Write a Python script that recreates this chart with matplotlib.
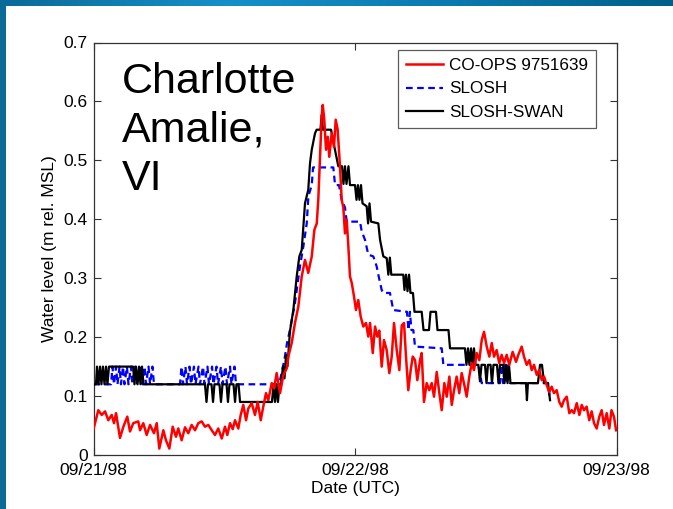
import numpy as np
import matplotlib
matplotlib.use('Agg')
import matplotlib.pyplot as plt

plt.rcParams['font.family'] = ['Liberation Sans', 'DejaVu Sans']

# hours after 09/21/98 00:00 UTC, water level in m rel. MSL
coops_hours = [0.0, 0.44, 0.75, 1.06, 1.36, 1.67, 1.88, 2.07, 2.43, 2.74, 3.1, 3.35, 3.65, 4.11, 4.27, 4.57,
               4.88, 5.19, 5.55, 5.8, 6.04, 6.41, 6.65, 6.96, 7.27, 7.57, 7.78, 8.09, 8.4, 8.7, 9.01, 9.32,
               9.62, 9.93, 10.23, 10.54, 10.85, 11.15, 11.45, 11.77, 12.07, 12.28, 12.53, 12.78, 12.99, 13.29,
               13.51, 13.75, 14.0, 14.21, 14.52, 14.82, 15.07, 15.35, 15.58, 15.83, 16.04, 16.36, 16.57, 16.81,
               17.12, 17.42, 17.73, 17.88, 18.19, 18.49, 18.8, 19.11, 19.41, 19.71, 20.03, 20.27, 20.49, 20.63,
               20.79, 20.94, 21.04, 21.18, 21.34, 21.5, 21.64, 21.86, 22.07, 22.23, 22.41, 22.62, 22.78, 22.93,
               23.08, 23.24, 23.39, 23.54, 23.7, 23.91, 24.09, 24.3, 24.52, 24.76, 25.01, 25.22, 25.38, 25.63,
               25.84, 26.05, 26.23, 26.45, 26.66, 26.91, 27.15, 27.37, 27.58, 27.83, 28.07, 28.29, 28.5, 28.68,
               28.89, 29.11, 29.3, 29.51, 29.72, 29.97, 30.12, 30.33, 30.58, 30.82, 31.04, 31.25, 31.5, 31.74,
               31.96, 32.2, 32.42, 32.66, 32.88, 33.09, 33.33, 33.57, 33.79, 34.0, 34.25, 34.49, 34.71, 34.92,
               35.17, 35.41, 35.63, 35.84, 36.09, 36.33, 36.55, 36.76, 37.0, 37.24, 37.46, 37.68, 37.92, 38.16,
               38.47, 38.78, 38.99, 39.3, 39.51, 39.76, 40.0, 40.22, 40.43, 40.68, 40.91, 41.14, 41.35, 41.59,
               41.83, 42.05, 42.26, 42.51, 42.75, 42.97, 43.18, 43.43, 43.67, 43.89, 44.1, 44.35, 44.59, 44.81,
               45.02, 45.26, 45.5, 45.72, 45.94, 46.18, 46.42, 46.64, 46.85, 47.1, 47.34, 47.54, 47.77, 47.96]
coops_level = [0.044, 0.076, 0.068, 0.074, 0.059, 0.068, 0.054, 0.071, 0.029, 0.048, 0.065, 0.040, 0.054, 0.057,
               0.042, 0.054, 0.034, 0.051, 0.037, 0.054, 0.011, 0.042, 0.025, 0.011, 0.048, 0.031, 0.045, 0.025,
               0.047, 0.037, 0.051, 0.042, 0.054, 0.057, 0.048, 0.051, 0.042, 0.034, 0.045, 0.028, 0.048, 0.034,
               0.054, 0.044, 0.059, 0.045, 0.068, 0.085, 0.059, 0.079, 0.088, 0.068, 0.090, 0.059, 0.082, 0.105,
               0.093, 0.122, 0.113, 0.139, 0.105, 0.135, 0.147, 0.167, 0.19, 0.224, 0.252, 0.303, 0.331, 0.309,
               0.337, 0.382, 0.393, 0.433, 0.506, 0.574, 0.594, 0.569, 0.518, 0.54, 0.506, 0.546, 0.523, 0.569,
               0.552, 0.49, 0.433, 0.42, 0.376, 0.399, 0.354, 0.303, 0.292, 0.269, 0.246, 0.263, 0.235, 0.218,
               0.224, 0.201, 0.224, 0.173, 0.218, 0.201, 0.211, 0.150, 0.195, 0.178, 0.139, 0.167, 0.224, 0.178,
               0.144, 0.220, 0.224, 0.167, 0.110, 0.144, 0.167, 0.161, 0.127, 0.161, 0.173, 0.09, 0.122, 0.11,
               0.122, 0.099, 0.141, 0.105, 0.076, 0.122, 0.099, 0.133, 0.085, 0.11, 0.133, 0.105, 0.139, 0.122,
               0.099, 0.133, 0.156, 0.144, 0.173, 0.161, 0.195, 0.209, 0.184, 0.167, 0.19, 0.167, 0.178, 0.156,
               0.17, 0.156, 0.17, 0.153, 0.175, 0.158, 0.17, 0.184, 0.167, 0.153, 0.161, 0.144, 0.153, 0.136,
               0.144, 0.127, 0.133, 0.119, 0.107, 0.116, 0.105, 0.11, 0.09, 0.082, 0.093, 0.099, 0.071, 0.076,
               0.071, 0.088, 0.068, 0.085, 0.076, 0.082, 0.059, 0.074, 0.054, 0.045, 0.065, 0.076, 0.051, 0.071,
               0.045, 0.076, 0.065, 0.042]

slosh_hours = [0.0, 1.61, 1.74, 1.88, 2.07, 2.2, 2.39, 2.52, 2.71, 2.84, 3.07, 3.21, 3.44, 3.58, 3.81, 3.95,
               4.36, 4.5, 4.68, 4.82, 5.05, 5.19, 5.41, 5.55, 7.94, 8.08, 8.21, 8.44, 8.58, 8.81, 8.95, 9.22,
               9.36, 9.64, 9.77, 10.05, 10.19, 10.46, 10.6, 10.88, 11.01, 11.29, 11.43, 11.7, 11.84, 12.11,
               12.25, 12.53, 12.66, 12.94, 13.08, 16.84, 17.12, 17.39, 17.57, 17.76, 18.03, 18.49, 18.95, 19.26,
               19.57, 19.72, 20.03, 20.15, 22.01, 22.17, 22.53, 22.78, 23.08, 23.24, 24.46, 24.61, 24.92, 25.22,
               25.68, 25.99, 26.14, 26.45, 26.6, 27.21, 27.51, 28.77, 28.91, 29.04, 29.18, 29.35, 29.51, 31.96,
               32.11, 35.32, 35.63, 37.31, 37.45, 37.59, 37.77, 37.91, 38.09, 38.22, 41.71, 41.9]
slosh_level = [0.12, 0.12, 0.15, 0.12, 0.15, 0.12, 0.15, 0.12, 0.15, 0.12, 0.15, 0.12, 0.15, 0.12, 0.15, 0.12,
               0.15, 0.12, 0.15, 0.12, 0.15, 0.12, 0.15, 0.12, 0.12, 0.15, 0.12, 0.15, 0.12, 0.15, 0.12, 0.15,
               0.12, 0.15, 0.12, 0.15, 0.12, 0.15, 0.12, 0.15, 0.12, 0.15, 0.12, 0.15, 0.12, 0.15,
               0.12, 0.15, 0.12, 0.15, 0.12, 0.12, 0.127, 0.15, 0.167, 0.19, 0.212, 0.258, 0.32, 0.354,
               0.393, 0.439, 0.458, 0.488, 0.488, 0.458, 0.458, 0.433, 0.42, 0.396, 0.396, 0.38, 0.365, 0.34,
               0.337, 0.32, 0.306, 0.28, 0.275, 0.275, 0.246, 0.243, 0.212, 0.243, 0.212, 0.212, 0.184, 0.181,
               0.153, 0.153, 0.122, 0.122, 0.153, 0.122, 0.153, 0.122, 0.153, 0.122, 0.122, 0.093]

swan_hours = [0.0, 0.23, 0.32, 0.46, 0.6, 0.73, 0.87, 1.01, 1.15, 1.28, 1.42, 3.63, 3.76, 3.9, 4.04, 4.18,
              4.31, 4.45, 4.59, 10.23, 10.37, 10.51, 10.83, 10.97, 11.1, 11.56, 11.7, 11.84, 12.21, 12.34,
              12.48, 12.85, 12.99, 13.12, 13.31, 13.45, 16.38, 16.52, 16.66, 16.8, 16.93, 17.07, 17.21, 17.39,
              17.53, 17.67, 17.8, 18.03, 18.34, 18.65, 18.89, 19.11, 19.41, 19.71, 19.87, 20.03, 20.33, 20.48,
              20.83, 20.94, 21.06, 21.8, 21.98, 22.16, 22.47, 22.81, 22.94, 23.08, 23.22, 23.4, 23.54, 24.0,
              24.14, 24.27, 24.41, 24.55, 24.69, 25.07, 25.2, 25.33, 25.47, 26.14, 26.3, 26.6, 26.91, 27.06,
              27.2, 27.33, 28.43, 28.54, 28.68, 28.82, 28.96, 29.09, 29.32, 29.46, 30.12, 30.29, 30.79, 30.93,
              31.43, 31.57, 32.58, 32.72, 34.09, 34.23, 34.37, 34.5, 34.65, 34.78, 34.92, 35.06, 35.32, 35.47,
              35.61, 35.93, 36.07, 36.2, 36.44, 36.57, 36.71, 37.03, 37.17, 37.31, 37.59, 37.72, 37.86, 38.0,
              38.13, 38.27, 39.69, 39.78, 39.87, 40.79, 40.98, 41.16, 41.35, 41.71, 41.9]
swan_level = [0.12, 0.12, 0.15, 0.12, 0.15, 0.12, 0.15, 0.12, 0.15, 0.12, 0.15, 0.15, 0.12, 0.15, 0.12, 0.15,
              0.12, 0.15, 0.12, 0.12, 0.09, 0.12, 0.12, 0.09, 0.12, 0.12, 0.09, 0.12, 0.12, 0.09,
              0.12, 0.12, 0.09, 0.12, 0.12, 0.09, 0.09, 0.12, 0.09, 0.12, 0.09, 0.12, 0.12, 0.15,
              0.13, 0.17, 0.15, 0.21, 0.246, 0.303, 0.337, 0.348, 0.427, 0.45, 0.495, 0.518, 0.546, 0.552,
              0.552, 0.577, 0.552, 0.552, 0.535, 0.518, 0.49, 0.49, 0.46, 0.49, 0.46, 0.49, 0.458, 0.458,
              0.433, 0.458, 0.433, 0.458, 0.427, 0.422, 0.393, 0.427, 0.396, 0.393, 0.365, 0.337, 0.334, 0.306,
              0.335, 0.306, 0.306, 0.28, 0.306, 0.278, 0.306, 0.275, 0.275, 0.243, 0.243, 0.212, 0.212, 0.243,
              0.243, 0.212, 0.212, 0.181, 0.181, 0.153, 0.181, 0.153, 0.181, 0.153, 0.181, 0.153, 0.153, 0.125,
              0.153, 0.153, 0.122, 0.153, 0.153, 0.122, 0.153, 0.153, 0.122, 0.153, 0.153, 0.122, 0.153, 0.122,
              0.153, 0.122, 0.122, 0.093, 0.122, 0.122, 0.153, 0.153, 0.122, 0.122, 0.093]

date_labels = ['09/21/98', '09/22/98', '09/23/98']

# Create figure at the slide size
fig = plt.figure(figsize=(6.73, 5.09), dpi=100)
fig.patch.set_facecolor('white')

# blue slide frame (left strip and gradient top strip)
left_bar = fig.add_axes([0, 0, 6/673, 1])
left_bar.set_axis_off()
left_bar.add_patch(plt.Rectangle((0, 0), 1, 1, color='#0a6a98', transform=left_bar.transAxes))
top_bar = fig.add_axes([0, 1 - 6/509, 1, 6/509])
grad = np.linspace(0, 1, 256).reshape(1, -1)
top_bar.imshow(grad, aspect='auto', cmap=matplotlib.colors.LinearSegmentedColormap.from_list(
    'frame', ['#0a6a98', '#1590c8', '#0b7ab0', '#006088']), extent=[0, 1, 0, 1])
top_bar.set_axis_off()

ax = fig.add_axes([93.5/673, 54/509, 523/673, 412.5/509])

coops_days = np.array(coops_hours) / 24.0
slosh_days = np.array(slosh_hours) / 24.0
swan_days = np.array(swan_hours) / 24.0

ax.plot(coops_days, coops_level, color='#ff0000', lw=1.8, label='CO-OPS 9751639', zorder=4)
ax.plot(slosh_days, slosh_level, color='#0000ff', lw=1.6, ls=(0, (3, 2)), label='SLOSH', zorder=2)
ax.plot(swan_days, swan_level, color='black', lw=1.6, label='SLOSH-SWAN', zorder=3)

ax.set_xlim(0, 2)
ax.set_ylim(0, 0.7)
ax.set_xticks([0, 1, 2])
ax.set_xticklabels(date_labels)
ax.set_yticks(np.arange(0, 0.71, 0.1))
ax.set_yticklabels(['0', '0.1', '0.2', '0.3', '0.4', '0.5', '0.6', '0.7'])
ax.tick_params(direction='in', length=5, width=0.8, labelsize=12.5, top=True, right=True, pad=4,
               colors='#333333', labelcolor='black')
ax.tick_params(axis='x', pad=6)
for sp in ax.spines.values():
    sp.set_color('#333333')
    sp.set_linewidth(0.9)

ax.set_xlabel('Date (UTC)', fontsize=12.5, labelpad=2)
ax.set_ylabel('Water level (m rel. MSL)', fontsize=12.5, labelpad=5)

ax.text(0.055, 0.952, 'Charlotte\nAmalie,\nVI', transform=ax.transAxes, fontsize=31,
        va='top', ha='left', linespacing=1.27)

leg = ax.legend(loc='upper right', bbox_to_anchor=(0.961, 0.982), fontsize=12.3, frameon=True,
                fancybox=False, borderpad=0.45, labelspacing=0.52, handlelength=2.2, handletextpad=0.35,
                borderaxespad=0)
leg.get_frame().set_edgecolor('#333333')
leg.get_frame().set_linewidth(0.9)

plt.savefig('out.png', dpi=100)
